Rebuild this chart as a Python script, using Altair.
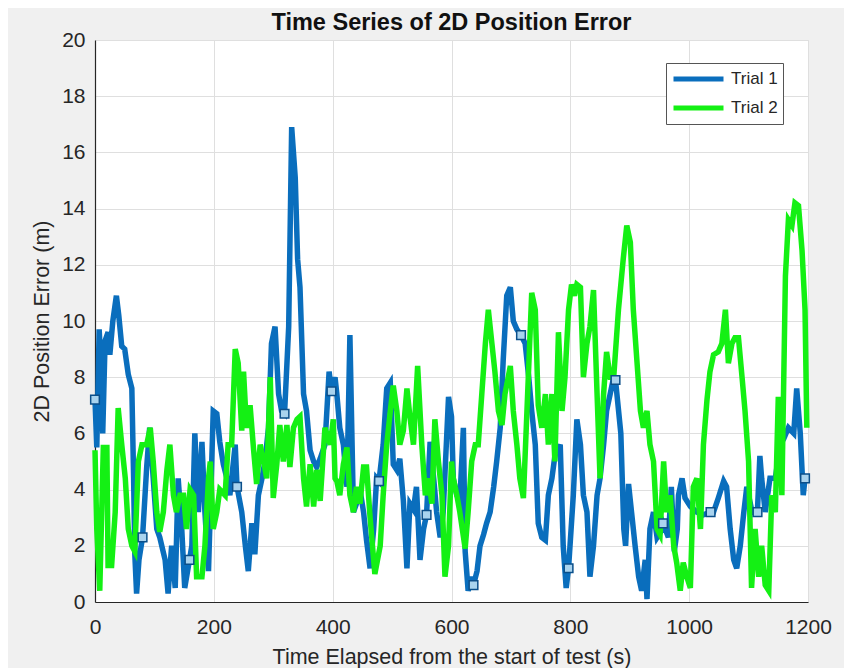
import altair as alt
import pandas as pd

# ---- Data ----
t1_time = [0, 3, 7, 10, 13, 17, 22, 25, 30, 36, 40, 45, 50, 56, 62, 65, 67, 70, 74, 80, 87, 92, 98, 104, 109,
           118, 123, 129, 135, 140, 146, 151, 159, 163, 168, 174, 180, 185, 191, 199, 205, 210, 216, 222, 227,
           236, 239, 247, 253, 258, 264, 269, 275, 281, 286, 292, 297, 303, 309, 314, 319, 326, 331, 337, 341,
           345, 351, 356, 362, 368, 373, 379, 387, 394, 398, 404, 407, 412, 418, 424, 429, 435, 440, 446, 452,
           457, 463, 469, 474, 478, 485, 491, 497, 502, 508, 513, 519, 525, 530, 536, 541, 547, 553, 558, 564,
           570, 575, 581, 586, 595, 600, 603, 609, 614, 620, 623, 628, 634, 637, 643, 648, 654, 659, 665, 671,
           676, 682, 687, 693, 699, 704, 710, 717, 724, 730, 735, 741, 746, 752, 758, 763, 769, 774, 783, 788,
           793, 797, 805, 811, 817, 822, 828, 833, 839, 845, 850, 856, 861, 867, 873, 876, 885, 890, 893, 898,
           903, 909, 915, 920, 926, 929, 934, 940, 946, 952, 956, 965, 970, 975, 980, 982, 988, 993, 1002, 1013,
           1024, 1036, 1041, 1049, 1058, 1063, 1069, 1075, 1080, 1086, 1092, 1097, 1106, 1115, 1119, 1122,
           1128, 1136, 1145, 1153, 1159, 1167, 1176, 1181, 1187, 1192, 1195]
t1_err = [7.2, 5.5, 9.7, 8.5, 6.0, 9.3, 9.6, 8.8, 10.0, 10.9, 10.2, 9.1, 9.0, 8.1, 7.6, 4.4, 1.7, 0.3, 1.5, 2.3,
          4.8, 6.2, 4.4, 2.6, 2.3, 1.5, 0.3, 2.0, 0.5, 4.4, 2.6, 0.5, 1.5, 2.0, 6.0, 3.2, 5.7, 3.2, 1.1, 6.8,
          6.7, 5.7, 4.9, 4.4, 3.8, 5.6, 4.1, 3.2, 2.0, 1.1, 2.8, 1.7, 3.8, 4.4, 5.0, 6.2, 9.2, 9.8, 7.4, 6.8,
          6.7, 9.8, 16.9, 15.1, 12.2, 11.2, 7.4, 6.8, 5.4, 5.0, 4.8, 5.1, 5.6, 8.2, 7.5, 8.0, 7.4, 6.2, 5.6,
          4.1, 9.5, 3.2, 3.5, 4.0, 3.2, 2.2, 1.2, 2.6, 4.4, 4.3, 5.6, 7.6, 7.8, 4.9, 4.7, 5.1, 3.6, 1.2, 3.5,
          3.3, 4.1, 1.5, 2.6, 3.1, 5.7, 4.4, 3.2, 2.3, 3.2, 7.3, 6.6, 4.4, 3.8, 3.6, 6.2, 1.8, 0.4, 0.9, 0.6,
          1.1, 2.0, 2.4, 2.8, 3.2, 4.1, 5.0, 6.2, 8.6, 10.9, 11.2, 10.0, 9.7, 9.5, 9.2, 8.0, 6.8, 5.6, 2.8,
          2.3, 2.2, 3.8, 4.4, 5.2, 5.6, 2.0, 0.5, 1.2, 3.8, 6.5, 5.6, 3.8, 3.2, 0.9, 2.0, 3.8, 4.4, 5.6, 6.8,
          7.4, 8.0, 7.9, 6.0, 2.6, 2.0, 4.2, 3.2, 2.0, 0.9, 0.4, 1.5, 0.1, 2.6, 3.2, 2.3, 2.5, 2.8, 2.3, 4.1,
          1.8, 2.6, 3.8, 4.4, 3.7, 3.4, 3.2, 3.1, 3.2, 3.2, 3.7, 4.3, 4.1, 2.6, 1.5, 1.2, 2.0, 3.2, 4.1, 3.2,
          3.3, 5.2, 4.4, 3.2, 4.4, 4.4, 5.6, 5.8, 6.2, 6.0, 7.6, 6.0, 3.8, 4.4]

t2_time = [0, 3, 8, 14, 20, 22, 28, 34, 39, 45, 51, 56, 62, 67, 73, 79, 87, 93, 98, 104, 109, 115, 121, 126,
           132, 137, 143, 149, 154, 160, 166, 171, 180, 185, 191, 194, 199, 205, 210, 219, 224, 230, 236, 241,
           247, 250, 255, 261, 267, 272, 278, 283, 289, 295, 300, 306, 311, 317, 323, 328, 334, 340, 345, 351,
           356, 362, 368, 373, 379, 387, 396, 401, 404, 407, 412, 418, 424, 429, 435, 440, 446, 452, 457, 463,
           471, 480, 485, 491, 497, 502, 508, 513, 519, 525, 530, 536, 543, 550, 556, 561, 567, 572, 578, 584,
           589, 595, 600, 603, 609, 614, 623, 628, 634, 640, 645, 651, 657, 662, 668, 673, 679, 685, 690, 699,
           704, 710, 715, 721, 727, 735, 741, 746, 752, 758, 763, 769, 774, 780, 786, 791, 797, 802, 807, 811,
           817, 822, 828, 833, 839, 845, 850, 856, 861, 867, 873, 881, 889, 895, 901, 906, 912, 918, 923, 929,
           934, 940, 946, 951, 957, 962, 968, 974, 979, 985, 990, 996, 1002, 1007, 1013, 1019, 1024, 1030,
           1035, 1041, 1049, 1055, 1061, 1066, 1072, 1077, 1083, 1089, 1094, 1100, 1105, 1111, 1117, 1122,
           1128, 1134, 1139, 1145, 1150, 1156, 1162, 1167, 1173, 1178, 1184, 1190, 1195, 1198]
t2_err = [5.4, 2.6, 0.4, 5.5, 5.5, 1.3, 1.3, 3.2, 6.9, 5.6, 4.4, 2.6, 2.0, 1.8, 5.0, 5.6, 5.6, 6.2, 5.0, 3.2,
          2.5, 3.2, 4.7, 5.6, 3.8, 3.2, 3.8, 3.8, 2.6, 4.0, 3.8, 0.9, 0.9, 2.0, 4.4, 5.0, 2.6, 3.2, 4.0, 3.8,
          5.6, 5.6, 9.0, 8.5, 6.1, 8.2, 6.2, 7.0, 5.4, 4.2, 5.6, 5.1, 4.4, 8.0, 3.7, 4.9, 6.3, 5.0, 6.3, 4.8,
          6.2, 6.5, 6.6, 4.4, 3.4, 4.9, 3.4, 4.7, 3.6, 6.2, 5.6, 6.5, 4.4, 4.3, 3.8, 4.9, 5.5, 3.8, 3.2, 4.1,
          3.5, 4.8, 4.8, 3.0, 1.0, 2.0, 3.8, 5.6, 6.8, 7.7, 6.8, 5.6, 6.1, 7.6, 6.6, 5.6, 8.4, 5.6, 3.8, 4.4,
          3.5, 6.5, 5.0, 3.8, 0.9, 2.0, 5.0, 4.4, 3.8, 3.2, 1.9, 3.2, 5.0, 5.6, 5.6, 7.4, 9.2, 10.4, 9.2, 8.2,
          6.8, 6.3, 7.4, 8.4, 6.8, 5.6, 4.4, 3.7, 6.8, 11.0, 10.4, 7.0, 6.2, 7.4, 5.6, 7.4, 5.0, 9.6, 6.8,
          8.0, 10.4, 11.3, 10.9, 11.3, 11.2, 8.0, 9.2, 9.8, 11.1, 7.4, 4.4, 7.4, 8.9, 8.0, 8.0, 10.4, 12.2,
          13.4, 12.8, 10.4, 8.6, 6.8, 6.2, 6.8, 5.6, 5.0, 2.6, 2.4, 5.0, 3.2, 3.8, 2.0, 1.4, 0.4, 1.4, 0.9,
          0.5, 4.1, 4.4, 2.6, 5.6, 7.2, 8.2, 8.8, 8.9, 9.2, 10.4, 8.5, 9.2, 9.4, 9.4, 8.0, 6.8, 5.0, 0.5, 2.6,
          0.9, 2.0, 0.6, 0.4, 3.8, 3.2, 7.3, 3.8, 11.6, 13.6, 13.4, 14.2, 14.1, 12.5, 10.4, 6.2]

marker_time = [0, 80, 159, 239, 319, 398, 478, 558, 637, 717, 797, 876, 956, 1036, 1115, 1195]
marker_err = [7.2, 2.3, 1.5, 4.1, 6.7, 7.5, 4.3, 3.1, 0.6, 9.5, 1.2, 7.9, 2.8, 3.2, 3.2, 4.4]

series_names = ["Trial 1", "Trial 2"]
series_colors = ["#0a6ebd", "#14f014"]

df = pd.concat([
    pd.DataFrame({"t": t1_time, "err": t1_err, "series": series_names[0], "order": 0}),
    pd.DataFrame({"t": t2_time, "err": t2_err, "series": series_names[1], "order": 1}),
])
mk = pd.DataFrame({"t": marker_time, "err": marker_err})

FONT = "Liberation Sans"
TXT = "#262626"

x_scale = alt.Scale(domain=[0, 1200], nice=False)
y_scale = alt.Scale(domain=[0, 20], nice=False)

x_axis = alt.Axis(values=list(range(0, 1201, 200)), format="d",
                  title="Time Elapsed from the start of test (s)",
                  labelFontSize=21, titleFontSize=21.5, labelColor=TXT, titleColor=TXT,
                  labelFont=FONT, titleFont=FONT, titleFontWeight="normal", labelPadding=14,
                  titlePadding=9, ticks=False, domainColor=TXT, domainWidth=1.2,
                  gridColor="#dfdfdf", labelFlush=False)
y_axis = alt.Axis(values=list(range(0, 21, 2)), title="2D Position Error (m)",
                  labelFontSize=21, titleFontSize=21.5, labelColor=TXT, titleColor=TXT,
                  labelFont=FONT, titleFont=FONT, titleFontWeight="normal", labelPadding=10,
                  titlePadding=8, ticks=False, domainColor=TXT, domainWidth=1.2,
                  gridColor="#dfdfdf")

lines = alt.Chart(df).mark_line(strokeWidth=5.5, strokeJoin="miter").encode(
    x=alt.X("t:Q", scale=x_scale, axis=x_axis),
    y=alt.Y("err:Q", scale=y_scale, axis=y_axis),
    color=alt.Color("series:N", scale=alt.Scale(domain=series_names, range=series_colors),
                    legend=alt.Legend(title=None, orient="none", legendX=571, legendY=23,
                                      symbolType="stroke", symbolSize=2500, symbolStrokeWidth=5,
                                      labelFontSize=17, labelFont=FONT, labelColor=TXT,
                                      labelExpr="datum.label + '  '",
                                      fillColor="white", strokeColor="#555555", padding=5,
                                      clipHeight=22, rowPadding=7, labelOffset=5)),
    detail="series:N",
    order="order:Q",
)

markers = alt.Chart(mk).mark_point(shape="square", filled=True, size=75, fill="#a9d3ee",
                                   stroke="#0b4f8a", strokeWidth=1.5, opacity=1).encode(
    x=alt.X("t:Q", scale=x_scale),
    y=alt.Y("err:Q", scale=y_scale),
)

chart = alt.layer(lines, markers).properties(
    width=713, height=562,
    title=alt.TitleParams("Time Series of 2D Position Error", fontSize=23.5, font=FONT,
                          fontWeight="bold", color="#111111", anchor="middle", offset=-5),
    background="#f0f0f0",
    padding={"left": 87, "top": 32, "right": 36, "bottom": 66},
    autosize=alt.AutoSizeParams(type="none"),
).configure_view(fill="white", stroke="#dfdfdf")

chart.save("out.html", embed_options={"renderer": "svg", "actions": False})
